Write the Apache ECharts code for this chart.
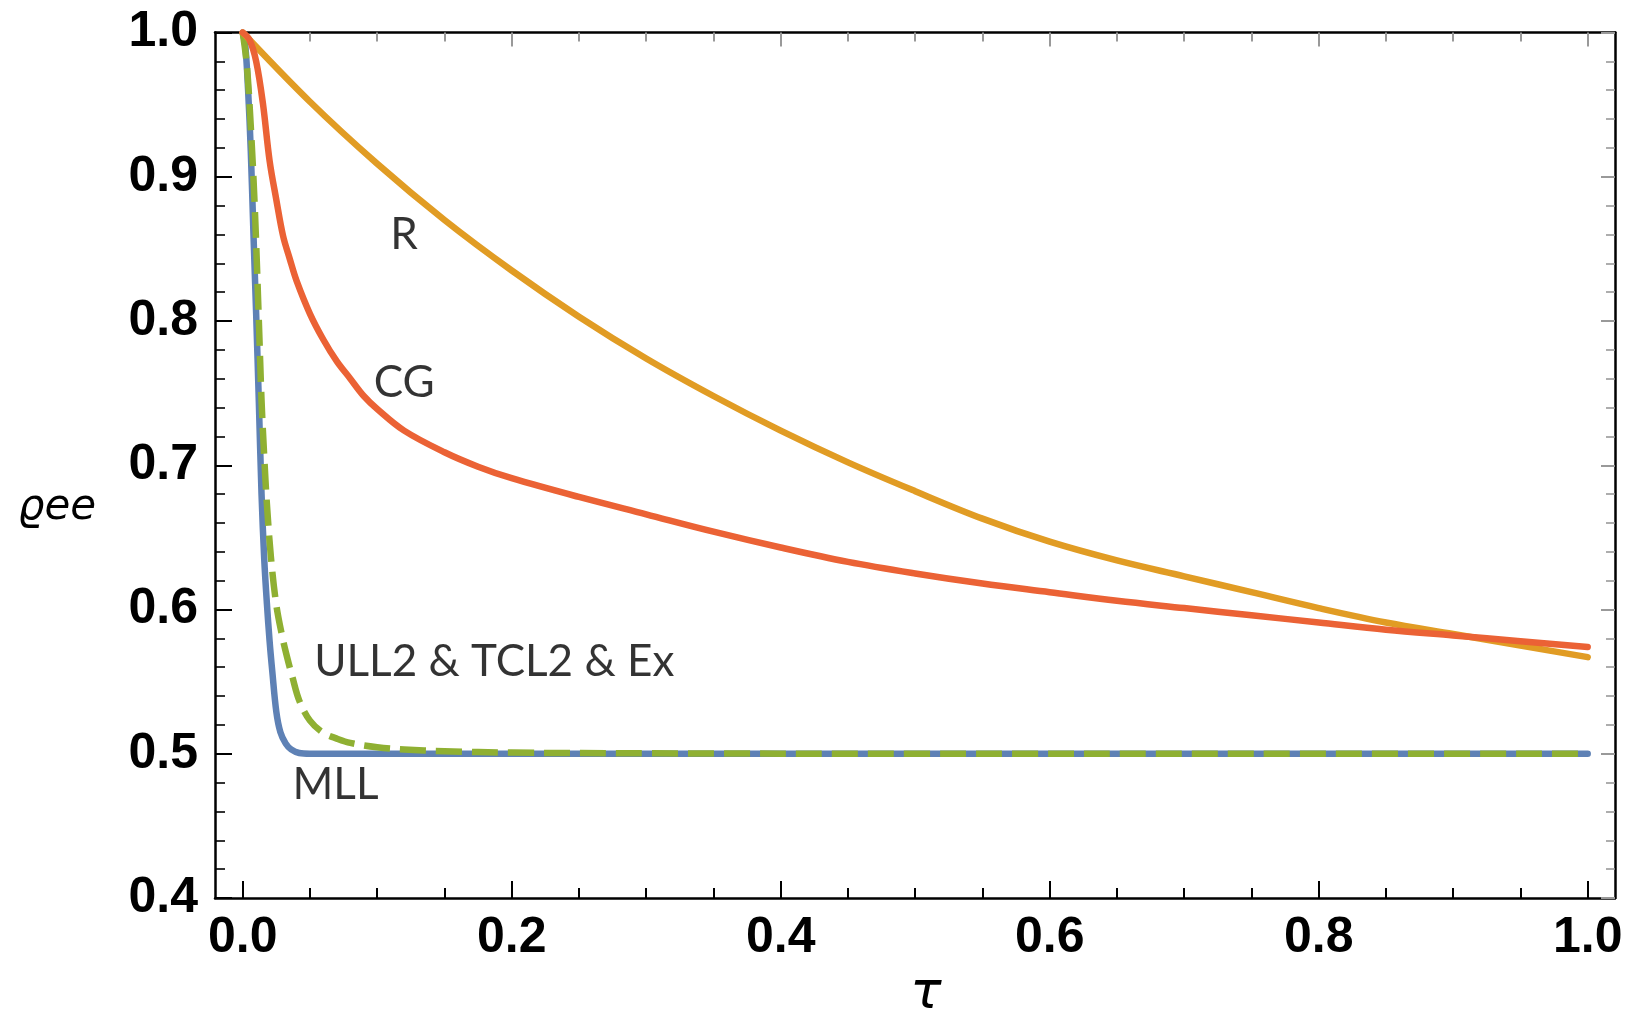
<!DOCTYPE html>
<html>
<head>
<meta charset="utf-8">
<script src="https://cdn.jsdelivr.net/npm/echarts@6/dist/echarts.min.js"></script>
<style>
  html, body { margin: 0; padding: 0; background: #fff; }
  #chart { width: 1634px; height: 1020px; }
</style>
</head>
<body>
<div id="chart"></div>
<script>
// tau values and rho_ee
const tauR = [0, 0.05, 0.1, 0.15, 0.2, 0.25, 0.3, 0.35, 0.4, 0.45, 0.5, 0.55, 0.6, 0.65, 0.7, 0.75, 0.8, 0.85, 0.9, 0.95, 1.0];
const rhoR = [1.000, 0.952, 0.909, 0.870, 0.835, 0.803, 0.774, 0.748, 0.724, 0.702, 0.682, 0.663, 0.647, 0.634, 0.623, 0.612, 0.601, 0.591, 0.583, 0.575, 0.567];

const tauCG = [0, 0.005, 0.01, 0.015, 0.02, 0.025, 0.03, 0.035, 0.04, 0.05, 0.06, 0.07, 0.08, 0.09, 0.1, 0.12, 0.15, 0.175, 0.2, 0.25, 0.3, 0.35, 0.4, 0.45, 0.5, 0.55, 0.6, 0.65, 0.7, 0.75, 0.8, 0.85, 0.9, 0.95, 1.0];
const rhoCG = [1.000, 0.995, 0.980, 0.951, 0.911, 0.884, 0.859, 0.843, 0.828, 0.805, 0.787, 0.772, 0.760, 0.748, 0.739, 0.724, 0.709, 0.699, 0.691, 0.678, 0.666, 0.654, 0.643, 0.633, 0.625, 0.618, 0.612, 0.606, 0.601, 0.596, 0.591, 0.586, 0.582, 0.578, 0.574];

const tauMLL = [0, 0.002, 0.004, 0.006, 0.008, 0.010, 0.012, 0.014, 0.016, 0.018, 0.020, 0.022, 0.025, 0.028, 0.032, 0.036, 0.042, 0.05, 0.1, 0.3, 0.5, 0.7, 1.0];
const rhoMLL = [1.000, 0.990, 0.960, 0.918, 0.860, 0.805, 0.744, 0.680, 0.635, 0.604, 0.578, 0.557, 0.529, 0.515, 0.507, 0.503, 0.5005, 0.500, 0.500, 0.500, 0.500, 0.500, 0.500];

const tauEx = [0, 0.003, 0.006, 0.009, 0.012, 0.014, 0.016, 0.018, 0.021, 0.025, 0.029, 0.033, 0.037, 0.042, 0.05, 0.06, 0.07, 0.08, 0.1, 0.12, 0.15, 0.2, 0.3, 0.5, 0.75, 1.0];
const rhoEx = [1.000, 0.978, 0.935, 0.878, 0.800, 0.745, 0.706, 0.673, 0.636, 0.603, 0.583, 0.567, 0.553, 0.537, 0.523, 0.5145, 0.5105, 0.5075, 0.5045, 0.503, 0.5018, 0.5008, 0.5003, 0.500, 0.500, 0.500];

// tick labels
const xMajor = [0, 0.2, 0.4, 0.6, 0.8, 1.0];
const xMinor = [0.05, 0.1, 0.15, 0.25, 0.3, 0.35, 0.45, 0.5, 0.55, 0.65, 0.7, 0.75, 0.85, 0.9, 0.95];
const yMin = 0.4, yMax = 1.0, yStep = 0.1;

// curve annotations
const annoText = ['R', 'CG', 'ULL2 & TCL2 & Ex', 'MLL'];
const annoTau = [0.120, 0.120, 0.187, 0.069];
const annoRho = [0.860, 0.757, 0.564, 0.4785];

const zip = (xs, ys) => xs.map((x, i) => [x, ys[i]]);

const tickFont = {
  fontFamily: '"Liberation Sans", Arial, sans-serif',
  fontWeight: 'bold',
  fontSize: 50,
  color: '#000',
};
const frame = { show: true, onZero: false, lineStyle: { color: '#000', width: 2.5 } };
const xMin = -0.0206, xMax = 1.0203;

const chart = echarts.init(document.getElementById('chart'));

function xAxisOf(position, values, len, color, withLabel) {
  return {
    type: 'value',
    position: position,
    min: xMin,
    max: xMax,
    axisLine: withLabel !== null ? frame : { show: false },
    splitLine: { show: false },
    axisTick: {
      show: true,
      inside: true,
      length: len,
      customValues: values,
      lineStyle: { color: color, width: 2 },
    },
    axisLabel: withLabel
      ? { show: true, customValues: values, margin: 15, formatter: (v) => v.toFixed(1), ...tickFont }
      : { show: false },
  };
}

function yAxisOf(position, color, withLabel) {
  return {
    type: 'value',
    position: position,
    min: yMin,
    max: yMax,
    interval: yStep,
    axisLine: frame,
    splitLine: { show: false },
    axisTick: { show: true, inside: true, length: withLabel ? 17 : 14, lineStyle: { color: color, width: 2 } },
    minorTick: { show: true, splitNumber: 5, length: withLabel ? 10 : 9, lineStyle: { color: color, width: 1.6 } },
    minorSplitLine: { show: false },
    axisLabel: withLabel
      ? { show: true, margin: 17, formatter: (v) => v.toFixed(1), ...tickFont }
      : { show: false },
  };
}

function curve(name, data, color, dashed) {
  return {
    name: name,
    type: 'line',
    data: data,
    xAxisIndex: 0,
    yAxisIndex: 0,
    showSymbol: false,
    smooth: 0.35,
    clip: true,
    lineStyle: {
      color: color,
      width: 6.5,
      type: dashed ? [26, 10] : 'solid',
      cap: dashed ? 'butt' : 'round',
      join: 'round',
    },
  };
}

chart.setOption({
  animation: false,
  backgroundColor: '#fff',
  grid: {
    left: 215,
    right: 19,
    top: 32.5,
    bottom: 122,
    containLabel: false,
    outerBoundsMode: 'none',
  },
  xAxis: [
    xAxisOf('bottom', xMajor, 17, '#000', true),
    xAxisOf('bottom', xMinor, 10, '#000', null),
    xAxisOf('top', xMajor, 14, '#999', false),
    xAxisOf('top', xMinor, 9, '#999', null),
  ],
  yAxis: [
    yAxisOf('left', '#000', true),
    yAxisOf('right', '#999', false),
  ],
  series: [
    curve('MLL', zip(tauMLL, rhoMLL), '#5E81B5', false),
    curve('ULL2 & TCL2 & Ex', zip(tauEx, rhoEx), '#8FB032', true),
    curve('R', zip(tauR, rhoR), '#E19C24', false),
    curve('CG', zip(tauCG, rhoCG), '#EB6235', false),
    {
      type: 'scatter',
      symbolSize: 1,
      itemStyle: { color: 'rgba(0,0,0,0)' },
      data: annoText.map((t, i) => ({ name: t, value: [annoTau[i], annoRho[i]] })),
      label: {
        show: true,
        position: 'inside',
        formatter: '{b}',
        fontFamily: 'Lato, "Open Sans", sans-serif',
        fontSize: 44,
        color: '#000',
      },
      z: 5,
    },
  ],
  graphic: [
    {
      type: 'text',
      x: 926,
      y: 994,
      style: {
        text: 'τ',
        font: 'italic 52px "DejaVu Sans"',
        fill: '#000',
        textAlign: 'center',
        textVerticalAlign: 'middle',
      },
    },
    {
      type: 'text',
      x: 57,
      y: 508,
      style: {
        text: 'ϱee',
        font: 'italic 42px "DejaVu Sans"',
        fill: '#000',
        textAlign: 'center',
        textVerticalAlign: 'middle',
      },
    },
  ],
});
</script>
</body>
</html>
